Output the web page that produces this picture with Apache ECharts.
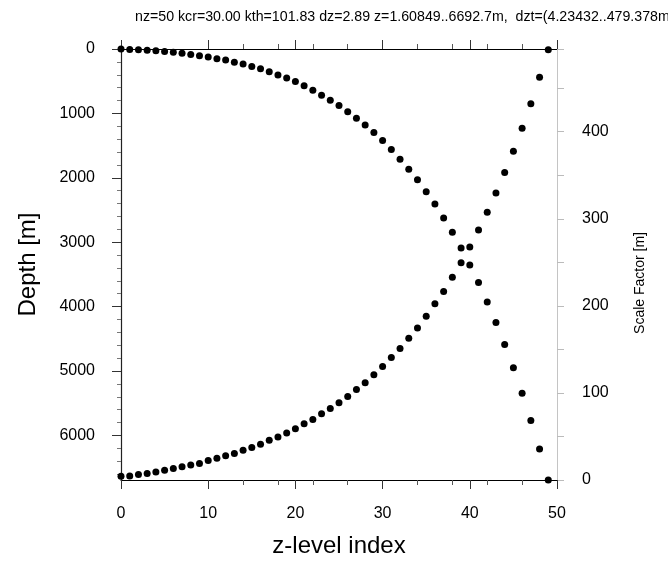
<!DOCTYPE html>
<html>
<head>
<meta charset="utf-8">
<script src="https://cdn.jsdelivr.net/npm/echarts@6/dist/echarts.min.js"></script>
<style>
html, body { margin: 0; padding: 0; background: #fff; }
#chart { width: 668px; height: 563px; }
</style>
</head>
<body>
<div id="chart"></div>
<script>
// z-level index
var levels = [0, 1, 2, 3, 4, 5, 6, 7, 8, 9, 10, 11, 12, 13, 14, 15, 16, 17, 18, 19,
	20, 21, 22, 23, 24, 25, 26, 27, 28, 29, 30, 31, 32, 33, 34, 35, 36, 37, 38, 39,
	40, 41, 42, 43, 44, 45, 46, 47, 48, 49];
// depth of each level [m] (left axis)
var depth = [1.6, 7, 13, 20, 28, 38, 50, 66, 85, 104, 125, 150, 172, 206, 233, 273, 305, 352, 402, 449,
	506, 572, 640, 717, 794, 876, 973, 1076, 1179, 1297, 1420, 1562, 1713, 1867, 2032, 2217, 2407, 2623, 2845, 3092,
	3354, 3625, 3929, 4248, 4587, 4951, 5347, 5768, 6210, 6692.7];
// scale factor of each level [m] (right axis)
var scaleFactor = [4.2, 4.6, 6.2, 7.6, 9.1, 11.1, 13.3, 15.3, 17.1, 19, 22.5, 25.1, 27.8, 30.4, 34.2, 37.3, 41, 45.6, 49.5, 54,
	59, 64.7, 69.6, 76.1, 82.1, 88.6, 96, 103.8, 111.7, 120.9, 130.4, 140.7, 151, 162.7, 174.5, 188, 202.3, 216.6, 233, 249.4,
	267.6, 287, 307.5, 329.5, 353.1, 377.7, 404.1, 432.2, 462.6, 494];
var xTicks = [0, 10, 20, 30, 40, 50];
var xMinorTicks = [14, 18, 22, 26, 34, 38, 42, 46];
var depthTicks = [0, 1000, 2000, 3000, 4000, 5000, 6000];
var scaleTicks = [0, 100, 200, 300, 400];
var title = 'nz=50 kcr=30.00 kth=101.83 dz=2.89 z=1.60849..6692.7m,  dzt=(4.23432..479.378m';

var font = '"Liberation Sans", Arial, Helvetica, sans-serif';

function pairs(xs, ys) {
	var out = [];
	for (var i = 0; i < xs.length; i++) {
		out.push([xs[i], ys[i]]);
	}
	return out;
}

function plain(v) {
	return String(v);
}

function xAxisOf(pos, major) {
	return {
		type: 'value',
		position: pos,
		min: 0,
		max: 50,
		interval: 10,
		axisLine: { show: major, onZero: false, lineStyle: { color: '#000', width: 1.2 } },
		axisTick: major ? { show: true, length: 9, lineStyle: { color: '#333' }, customValues: xTicks }
			: { show: true, length: 5, lineStyle: { color: '#555' }, customValues: xMinorTicks },
		axisLabel: { show: false },
		splitLine: { show: false }
	};
}

var chart = echarts.init(document.getElementById('chart'), null, { renderer: 'canvas' });

var bottomAxis = xAxisOf('bottom', true);
bottomAxis.axisLabel = {
	show: true,
	margin: 26,
	color: '#000',
	fontSize: 16,
	fontFamily: font,
	formatter: plain,
	customValues: xTicks
};
bottomAxis.name = 'z-level index';
bottomAxis.nameLocation = 'middle';
bottomAxis.nameGap = 54;
bottomAxis.nameTextStyle = { color: '#000', fontSize: 24, fontFamily: font };

var option = {
	backgroundColor: '#fff',
	animation: false,
	title: {
		text: title,
		left: 130,
		top: 5,
		textStyle: { color: '#000', fontSize: 14.2, fontWeight: 'normal', fontFamily: font }
	},
	grid: { left: 121, right: 111, top: 49, bottom: 80 },
	xAxis: [
		bottomAxis,
		xAxisOf('bottom', false),
		xAxisOf('top', true),
		xAxisOf('top', false)
	],
	yAxis: [
		{
			type: 'value',
			position: 'left',
			inverse: true,
			min: 0,
			max: 6692.7,
			interval: 1000,
			name: 'Depth [m]',
			nameLocation: 'middle',
			nameGap: 81,
			nameTextStyle: { color: '#000', fontSize: 24, fontFamily: font },
			axisLine: { show: true, onZero: false, lineStyle: { color: '#222', width: 1.2 } },
			axisTick: { show: true, length: 9, lineStyle: { color: '#333' }, customValues: depthTicks },
			minorTick: { show: true, splitNumber: 5, length: 4, lineStyle: { color: '#777' } },
			axisLabel: {
				margin: 26,
				color: '#000',
				fontSize: 16,
				fontFamily: font,
				formatter: plain,
				customValues: depthTicks
			},
			splitLine: { show: false },
			minorSplitLine: { show: false }
		},
		{
			type: 'value',
			position: 'right',
			min: 0,
			max: 495,
			interval: 50,
			axisLine: { show: true, onZero: false, lineStyle: { color: '#c4c4c4', width: 1 } },
			axisTick: { show: true, length: 7, lineStyle: { color: '#bbb' } },
			axisLabel: {
				margin: 25,
				color: '#000',
				fontSize: 16,
				fontFamily: font,
				formatter: plain,
				customValues: scaleTicks
			},
			splitLine: { show: false }
		}
	],
	graphic: [{
		type: 'text',
		x: 640,
		y: 283,
		rotation: Math.PI / 2,
		style: {
			text: 'Scale Factor [m]',
			align: 'center',
			verticalAlign: 'middle',
			fill: '#000',
			fontSize: 14,
			fontFamily: font
		}
	}],
	series: [
		{
			name: 'depth',
			type: 'scatter',
			xAxisIndex: 0,
			yAxisIndex: 0,
			symbol: 'circle',
			symbolSize: 7,
			clip: false,
			itemStyle: { color: '#000', opacity: 1 },
			data: pairs(levels, depth)
		},
		{
			name: 'scale factor',
			type: 'scatter',
			xAxisIndex: 0,
			yAxisIndex: 1,
			symbol: 'circle',
			symbolSize: 7,
			clip: false,
			itemStyle: { color: '#000', opacity: 1 },
			data: pairs(levels, scaleFactor)
		}
	]
};
chart.setOption(option);
</script>
</body>
</html>
